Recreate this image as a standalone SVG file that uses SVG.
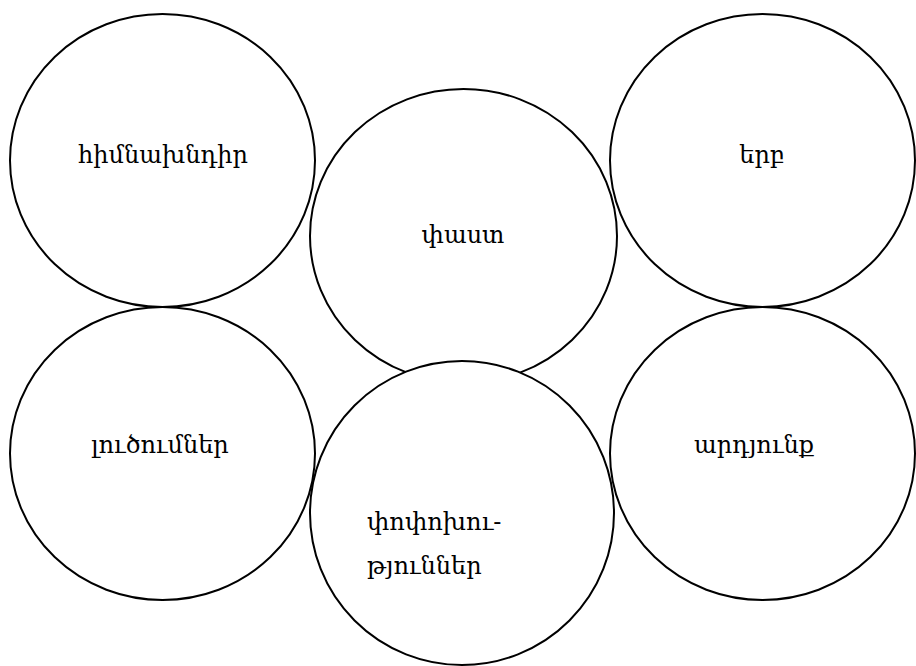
<svg xmlns="http://www.w3.org/2000/svg" width="916" height="666" viewBox="0 0 916 666">
<style>
.n{fill:#fff;stroke:#000;stroke-width:2}
.t{font-family:"DejaVu Serif","Liberation Serif",serif;font-size:24px;fill:#000}
.c{text-anchor:middle}
</style>
<rect width="916" height="666" fill="#fff"/>
<g id="connectors"></g>
<g id="n1"><ellipse class="n" cx="162.5" cy="160.5" rx="152.5" ry="146.5"/><text class="t c" x="163" y="163">հիմնախնդիր</text></g>
<g id="n3"><ellipse class="n" cx="762.5" cy="160.5" rx="152.5" ry="146.5"/><text class="t c" x="762" y="163">երբ</text></g>
<g id="n4"><ellipse class="n" cx="162.5" cy="453.5" rx="152.5" ry="146.5"/><text class="t c" x="160" y="453">լուծումներ</text></g>
<g id="n6"><ellipse class="n" cx="762.5" cy="453.5" rx="152.5" ry="146.5"/><text class="t c" x="754" y="453">արդյունք</text></g>
<g id="n2"><ellipse class="n" cx="463.5" cy="236" rx="153.5" ry="147"/><text class="t c" x="463" y="243">փաստ</text></g>
<g id="n5"><ellipse class="n" cx="462" cy="513" rx="152" ry="152"/><text class="t" x="367" y="530">փոփոխու-</text><text class="t" x="367" y="574">թյուններ</text></g>
</svg>
